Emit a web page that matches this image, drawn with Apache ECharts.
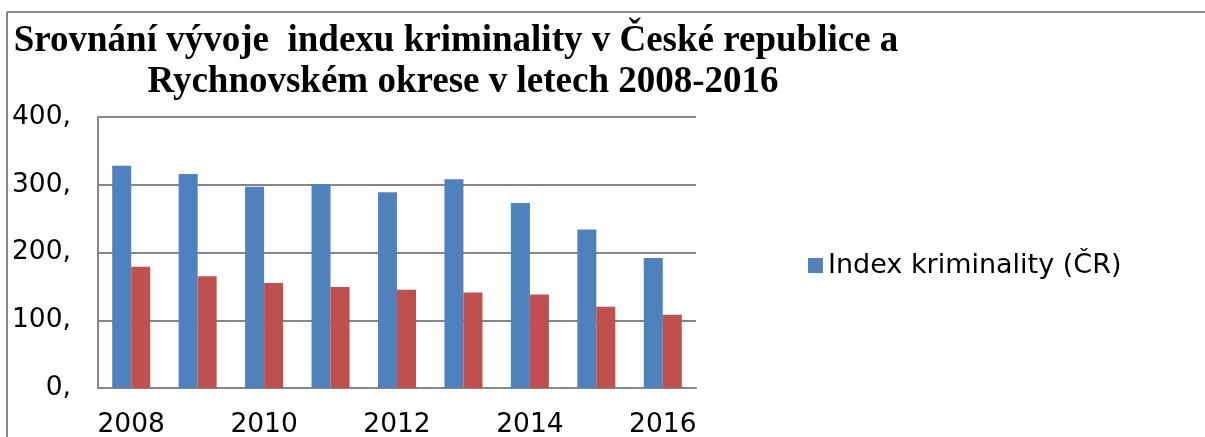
<!DOCTYPE html>
<html>
<head>
<meta charset="utf-8">
<script src="https://cdn.jsdelivr.net/npm/echarts@6/dist/echarts.min.js"></script>
<style>
  html, body { margin: 0; padding: 0; background: #fff; }
  #chart { width: 1205px; height: 437px; }
</style>
</head>
<body>
<div id="chart"></div>
<script>
// roky a hodnoty
let years = ['2008', '2009', '2010', '2011', '2012', '2013', '2014', '2015', '2016'];
let indexCR = [328, 316, 297, 301, 289, 308, 273, 234, 192];
let indexRK = [179, 165, 155, 149, 145, 141, 138, 120, 108];
let yTicks = [0, 100, 200, 300, 400];

let chart = echarts.init(document.getElementById('chart'));

chart.setOption({
  backgroundColor: '#ffffff',
  animation: false,
  graphic: [
    // rámeček grafu (pravý a spodní okraj jsou mimo výřez)
    {
      type: 'line',
      shape: { x1: 7, y1: 12, x2: 1205, y2: 12 },
      style: { stroke: '#888888', lineWidth: 2 }
    },
    {
      type: 'line',
      shape: { x1: 7, y1: 12, x2: 7, y2: 437 },
      style: { stroke: '#888888', lineWidth: 2 }
    },
    {
      type: 'text',
      x: 456, y: 41,
      style: {
        text: 'Srovnání vývoje  indexu kriminality v České republice a',
        font: 'bold 37px "Liberation Serif"',
        fill: '#000',
        align: 'center',
        verticalAlign: 'middle'
      }
    },
    {
      type: 'text',
      x: 463, y: 82,
      style: {
        text: 'Rychnovském okrese v letech 2008-2016',
        font: 'bold 37px "Liberation Serif"',
        fill: '#000',
        align: 'center',
        verticalAlign: 'middle'
      }
    }
  ],
  grid: {
    left: 98,
    right: 509,
    top: 117,
    bottom: 49,
    outerBoundsMode: 'none'
  },
  legend: {
    data: ['Index kriminality (ČR)'],
    orient: 'vertical',
    left: 808,
    top: 252,
    padding: 0,
    itemWidth: 15,
    itemHeight: 15,
    icon: 'rect',
    textStyle: { fontFamily: 'DejaVu Sans', fontSize: 27, color: '#000' }
  },
  xAxis: {
    type: 'category',
    data: years,
    axisTick: { show: false },
    axisLine: { lineStyle: { color: '#868686', width: 2 } },
    axisLabel: {
      interval: 1,
      margin: 24,
      fontFamily: 'DejaVu Sans',
      fontSize: 26.5,
      color: '#000'
    }
  },
  yAxis: {
    type: 'value',
    min: yTicks[0],
    max: yTicks[yTicks.length - 1],
    interval: 100,
    axisLine: { show: true, lineStyle: { color: '#868686', width: 2 } },
    axisTick: { show: false },
    splitLine: { lineStyle: { color: '#868686', width: 2 } },
    axisLabel: {
      margin: 27,
      fontFamily: 'DejaVu Sans',
      fontSize: 26.5,
      color: '#000',
      formatter: function (v) { return v + ','; }
    }
  },
  series: [
    {
      name: 'Index kriminality (ČR)',
      type: 'bar',
      data: indexCR,
      barWidth: 19,
      barGap: '0%',
      itemStyle: { color: '#4F81BD' }
    },
    {
      name: 'Index kriminality (Rychnovský okres)',
      type: 'bar',
      data: indexRK,
      barWidth: 19,
      itemStyle: { color: '#C0504D' }
    }
  ]
});
</script>
</body>
</html>
